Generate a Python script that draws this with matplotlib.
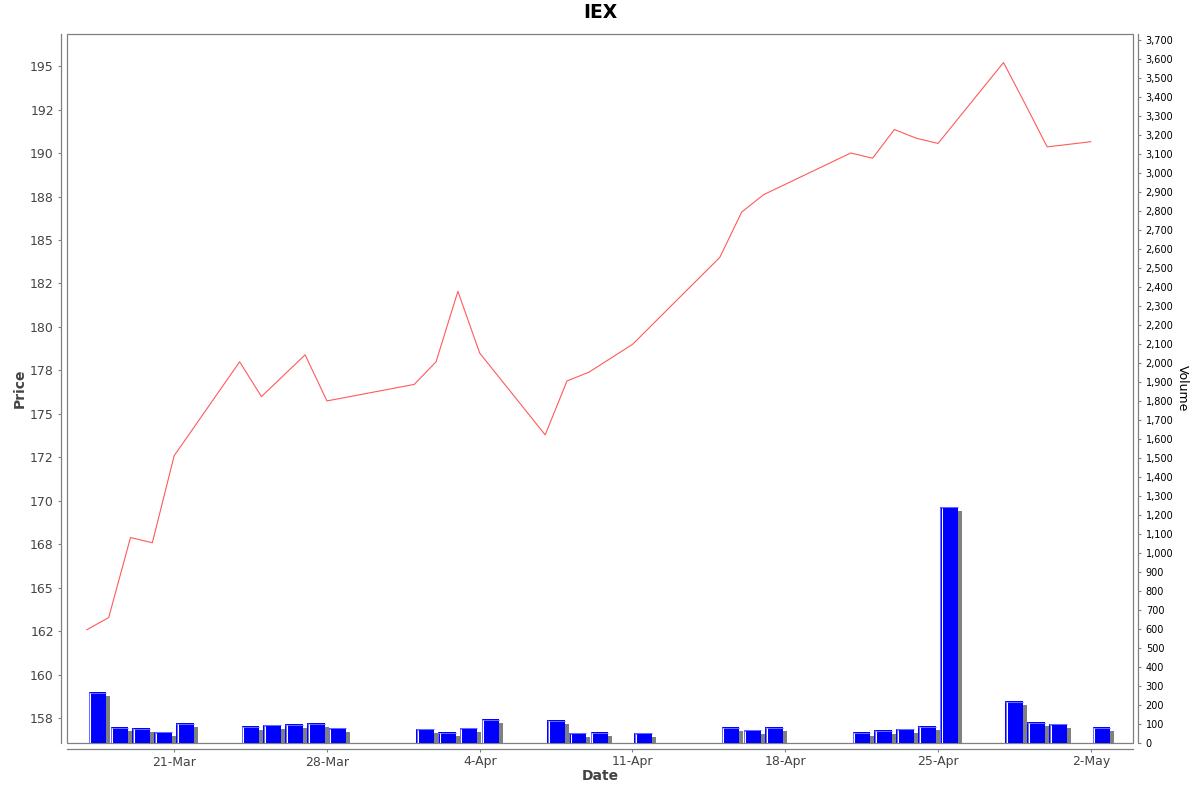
import matplotlib
matplotlib.use('Agg')
import matplotlib.pyplot as plt
import matplotlib.dates as mdates
from matplotlib.patches import Rectangle
from matplotlib.ticker import FuncFormatter, MultipleLocator
import numpy as np
import pandas as pd

# daily data
dates = ['2025-03-17', '2025-03-18', '2025-03-19', '2025-03-20', '2025-03-21',
         '2025-03-24', '2025-03-25', '2025-03-26', '2025-03-27', '2025-03-28',
         '2025-04-01', '2025-04-02', '2025-04-03', '2025-04-04',
         '2025-04-07', '2025-04-08', '2025-04-09', '2025-04-11',
         '2025-04-15', '2025-04-16', '2025-04-17',
         '2025-04-21', '2025-04-22', '2025-04-23', '2025-04-24', '2025-04-25',
         '2025-04-28', '2025-04-29', '2025-04-30', '2025-05-02']
price = [162.6, 163.3, 167.9, 167.6, 172.6,
         178.0, 176.0, 177.2, 178.4, 175.75,
         176.7, 178.0, 182.05, 178.5,
         173.8, 176.9, 177.4, 179.0,
         184.0, 186.6, 187.6,
         190.0, 189.7, 191.35, 190.85, 190.55,
         195.2, 192.8, 190.35, 190.65]
volume = [267, 84, 77, 58, 105,
          89, 95, 98, 105, 79,
          74, 56, 79, 126,
          121, 54, 56, 53,
          84, 70, 84,
          56, 66, 74, 88, 1242,
          219, 109, 102, 82]

grey = '#808080'
px_day = 21.86     # pixels per day on the x axis
px_vol = 0.19      # pixels per volume unit

x = mdates.date2num(pd.to_datetime(dates))
vol = np.array(volume, dtype=float)

fig = plt.figure(figsize=(12, 7.92), dpi=100)
ax = fig.add_axes([67 / 1200, 1 - 743 / 792, (1132.5 - 67) / 1200, (743 - 34) / 792])
ax2 = ax.twinx()

# price line
ax.plot(x, price, color='#ff5a5a', lw=0.8)
ax.set_ylim(156.09, 196.84)
ax.set_yticks(np.arange(157.5, 196, 2.5))
ax.yaxis.set_major_formatter(FuncFormatter(lambda v, _: '%.0f' % v))

x0 = mdates.date2num(pd.Timestamp('2025-03-21')) - 4.91
x1 = mdates.date2num(pd.Timestamp('2025-05-02')) + 1.91
ax.set_xlim(x0, x1)
ax.xaxis.set_major_locator(mdates.WeekdayLocator(byweekday=mdates.FR))
ax.xaxis.set_major_formatter(mdates.DateFormatter('%-d-%b'))

# volume bars with shadow
left = x + 0.087
w = 0.805
ax2.bar(left + 4 / px_day, vol - 4 / px_vol, width=w, align='edge', color=grey, lw=0)
ax2.bar(left, vol, width=w, align='edge', color='#0000ff', lw=0)
ax2.hlines(vol - 0.5 / px_vol, left, left + w, color='#6a6aff', lw=0.75)
ax2.vlines(left + 0.5 / px_day, 0, vol, color='#6a6aff', lw=0.75)
ax2.vlines(left + 1.6 / px_day, 0, vol - 1 / px_vol, color='white', lw=0.75)
ax2.set_ylim(0, 3730)
ax2.yaxis.set_major_locator(MultipleLocator(100))
ax2.yaxis.set_major_formatter(FuncFormatter(lambda v, _: f'{int(round(v)):,}'))
ax2.set_xlim(x0, x1)

# axes styling
for s in ['top', 'right']:
    ax.spines[s].set_visible(False)
for s in ['left', 'bottom']:
    ax.spines[s].set_position(('outward', 4))
    ax.spines[s].set_color(grey)
    ax.spines[s].set_linewidth(0.9)
for s in ['top', 'left', 'bottom']:
    ax2.spines[s].set_visible(False)
ax2.spines['right'].set_position(('outward', 4))
ax2.spines['right'].set_color(grey)
ax2.spines['right'].set_linewidth(0.9)

ax.add_patch(Rectangle((0, 0), 1, 1, transform=ax.transAxes, fill=False,
                       ec=grey, lw=0.9, clip_on=False, zorder=5))

ax.tick_params(axis='y', length=2.5, width=0.8, color=grey, labelsize=9,
               labelcolor='#444444', pad=3)
ax.tick_params(axis='x', length=2.5, width=0.8, color=grey, labelsize=9,
               labelcolor='#444444', pad=2.5)
ax2.tick_params(axis='y', length=2.5, width=0.8, color=grey, labelsize=7,
                labelcolor='black', pad=3)

fig.text(600 / 1200, 1 - 12.5 / 792, 'IEX', ha='center', va='center',
         fontsize=13.5, fontweight='bold')
fig.text(20 / 1200, 1 - 388.5 / 792, 'Price', rotation=90, ha='center', va='center',
         fontsize=10, fontweight='bold', color='#444444')
fig.text(600 / 1200, 1 - 776 / 792, 'Date', ha='center', va='center',
         fontsize=10, fontweight='bold', color='#444444')
fig.text(1182 / 1200, 1 - 388.5 / 792, 'Volume', rotation=270, ha='center', va='center',
         fontsize=9, color='black')

fig.savefig('out.png', dpi=100)
